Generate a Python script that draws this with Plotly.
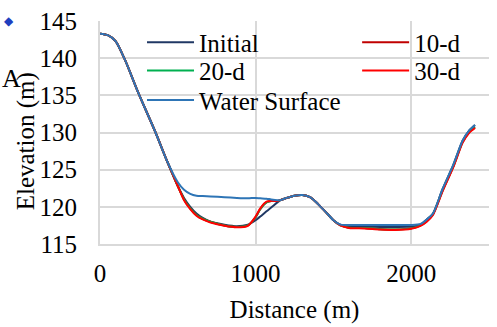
import plotly.graph_objects as go

distance = [0, 50, 100, 160, 245, 355, 430, 500, 540, 580, 620, 660, 710, 800, 880, 950,
            1000, 1030, 1070, 1100, 1140, 1160, 1200, 1250, 1300, 1350, 1400, 1460, 1500,
            1545, 1600, 1700, 1800, 1900, 2000, 2060, 2100, 2140, 2200, 2270, 2330, 2370, 2410]

initial = [143.3, 143.1, 142.3, 139.8, 135.4, 130.1, 126.2, 122.8, 121.2, 120.0, 119.1, 118.5,
           118.0, 117.6, 117.4, 117.6, 118.2, 118.7, 119.4, 119.9, 120.6, 120.9, 121.2, 121.5,
           121.6, 121.3, 120.4, 119.1, 118.2, 117.6, 117.4, 117.35, 117.3, 117.3, 117.35, 117.6,
           118.3, 119.1, 122.3, 125.6, 128.9, 130.2, 131.0]

d10 = [143.3, 143.1, 142.3, 139.8, 135.4, 130.1, 126.2, 122.8, 121.0, 119.8, 118.9, 118.4,
       118.0, 117.5, 117.3, 117.5, 118.6, 119.7, 120.6, 120.8, 120.8, 120.9, 121.2, 121.5,
       121.6, 121.3, 120.4, 119.1, 118.2, 117.5, 117.2, 117.15, 117.0, 116.95, 117.1, 117.5,
       118.1, 119.0, 122.1, 125.4, 128.7, 130.0, 130.7]

d20 = [143.3, 143.1, 142.3, 139.8, 135.4, 130.1, 126.2, 122.8, 121.0, 119.8, 118.9, 118.4,
       118.0, 117.5, 117.3, 117.5, 118.6, 119.7, 120.6, 120.8, 120.8, 120.9, 121.2, 121.5,
       121.6, 121.3, 120.4, 119.1, 118.2, 117.5, 117.2, 117.15, 117.0, 116.95, 117.1, 117.5,
       118.1, 119.0, 122.1, 125.4, 128.7, 130.0, 130.7]

d30 = [143.3, 143.1, 142.3, 139.8, 135.4, 130.1, 126.2, 122.8, 120.9, 119.7, 118.8, 118.3,
       117.9, 117.45, 117.25, 117.45, 118.7, 119.8, 120.7, 120.8, 120.8, 120.9, 121.2, 121.5,
       121.6, 121.3, 120.4, 119.1, 118.2, 117.5, 117.15, 117.1, 116.95, 116.9, 117.05, 117.45,
       118.0, 118.9, 122.0, 125.3, 128.6, 129.9, 130.6]

water = [143.3, 143.1, 142.3, 139.8, 135.4, 130.1, 126.2, 123.3, 122.3, 121.75, 121.5, 121.45,
         121.4, 121.3, 121.2, 121.15, 121.2, 121.15, 121.1, 121.0, 120.9, 120.9, 121.2, 121.5,
         121.6, 121.3, 120.4, 119.1, 118.2, 117.6, 117.55, 117.55, 117.55, 117.55, 117.55, 117.7,
         118.3, 119.1, 122.3, 125.6, 128.9, 130.2, 131.0]

series = [
    ("Initial", initial, "#203864", "legend"),
    ("10-d", d10, "#C00000", "legend2"),
    ("20-d", d20, "#00B050", "legend3"),
    ("30-d", d30, "#FF0000", "legend4"),
    ("Water Surface", water, "#2E75B6", "legend5"),
]

fig = go.Figure()
for name, vals, col, lg in series:
    fig.add_trace(go.Scatter(x=distance, y=vals, name=name, mode="lines", legend=lg,
                             line=dict(color=col, width=2, shape="spline", smoothing=0.7)))

font = "Times New Roman, Liberation Serif, serif"
FS = 25
legfont = dict(family=font, size=FS, color="black")


def leg(x, y):
    return dict(orientation="v", x=x, xanchor="left", y=y, yanchor="middle",
                bgcolor="rgba(0,0,0,0)", font=legfont, itemwidth=47)


col1, col2 = 0.108, 0.661
row1, row2, row3 = 0.904, 0.777, 0.645

fig.update_layout(
    width=497, height=327,
    margin=dict(l=100, r=8, t=18, b=80),
    paper_bgcolor="white", plot_bgcolor="white",
    font=dict(family=font, size=FS, color="black"),
    showlegend=True,
    legend=leg(col1, row1),
    legend2=leg(col2, row1),
    legend3=leg(col1, row2),
    legend4=leg(col2, row2),
    legend5=leg(col1, row3),
    xaxis=dict(range=[0, 2500], dtick=1000, tick0=0, showgrid=True, gridcolor="#D9D9D9",
               gridwidth=2, zeroline=False, showline=True, linecolor="#D9D9D9", linewidth=2,
               ticks="", ticklabelstandoff=6,
               title=dict(text="Distance (m)", standoff=14,
                          font=dict(family=font, size=FS))),
    yaxis=dict(range=[115, 145], dtick=5, showgrid=True, gridcolor="#D9D9D9", gridwidth=2,
               zeroline=False, showline=True, linecolor="#D9D9D9", linewidth=2,
               ticks="", ticklabelstandoff=16),
)

fig.add_annotation(text="Elevation (m)", xref="paper", yref="paper", x=-0.19, y=0.461,
                   xanchor="center", yanchor="middle", textangle=-90, showarrow=False,
                   font=dict(family=font, size=FS, color="black"))
fig.add_annotation(text="A", xref="paper", yref="paper", x=-0.257, y=0.74,
                   xanchor="left", yanchor="middle", showarrow=False,
                   font=dict(family=font, size=26, color="black"))
fig.add_annotation(text="◆", xref="paper", yref="paper", x=-0.252, y=1.0,
                   xanchor="left", yanchor="middle", showarrow=False,
                   font=dict(family="DejaVu Sans", size=12, color="#1F3FBF"))

fig.write_html("out.html")
